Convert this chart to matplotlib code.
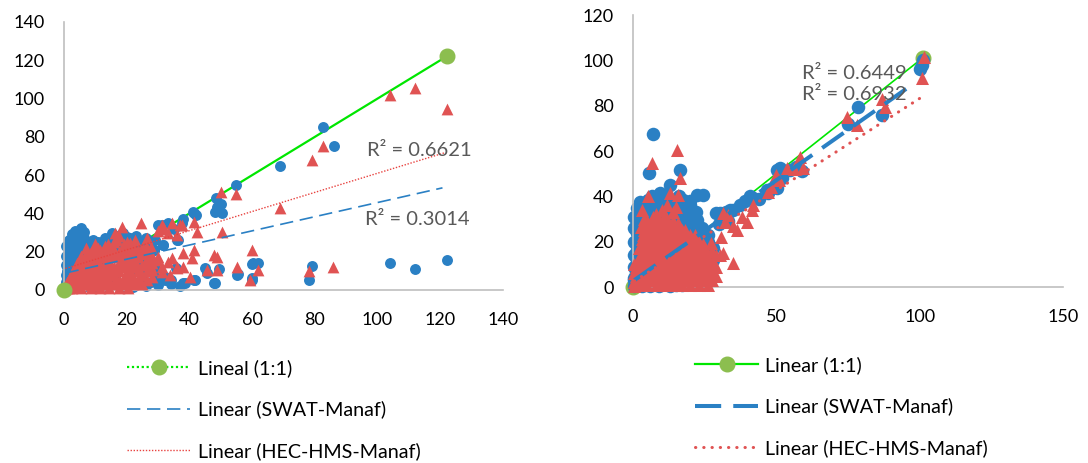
import numpy as np
import matplotlib
matplotlib.use("Agg")
import matplotlib.pyplot as plt
from matplotlib.lines import Line2D

plt.rcParams['font.family'] = ['Lato', 'DejaVu Sans']

# ---------------- data: left panel ----------------
left_swat = [
    (0.3, 1), (0.5, 4), (0.8, 7), (1, 10), (1.4, 13), (1.9, 16.5), (2.4, 20), (2.4, 22.6), (3, 25), (3, 27.9),
    (4, 30), (5.4, 32.2), (6.5, 30.5), (5, 28), (6, 26), (7, 24), (4, 19), (5, 22), (3, 14), (4, 10), (2, 6),
    (3, 3), (5, 7), (6, 12), (7, 17), (8, 21), (9.3, 26.1), (10, 23), (11, 19), (12, 19.2), (13, 24), (14, 22),
    (15.2, 29.6), (16, 25), (17, 21), (18.9, 29.6), (19, 26), (20, 23), (21, 27), (22.6, 26.1), (24, 24),
    (26, 27), (28.6, 21), (30, 34), (31.7, 23.5), (33.2, 34.8), (35, 32), (36, 26), (37.5, 34.8), (8.8, 12.2),
    (10, 8), (12, 13), (14, 10), (16.3, 6.9), (18, 12), (21, 7.8), (23, 14), (24.7, 10.4), (26, 16), (29, 11.3),
    (6.7, 2.1), (9, 4), (11, 2.6), (13, 5), (15.2, 3.5), (17, 2.5), (19.4, 4.3), (21, 3), (23.7, 3.5), (25, 6),
    (27.9, 4.3), (29.1, 7), (32.2, 5.2), (32.3, 7), (33.9, 5.2), (38.1, 3.5), (38.6, 3.5), (41.3, 5.2),
    (45, 11.3), (47.7, 3.5), (82.5, 85), (86, 75), (69, 65), (55, 55), (48.5, 48), (50, 45), (48.8, 43.5),
    (48, 40.6), (50.5, 40), (41, 41), (41.3, 40), (42, 39), (38, 37), (36.5, 26), (122, 15.7), (104, 14),
    (112, 11), (79, 12.5), (78, 5), (60, 13.5), (62, 14), (60.4, 14), (60, 5), (55.4, 8.4), (45.5, 9),
    (49.4, 11), (48, 3.5), (41.7, 5), (34, 5), (31.8, 7), (35.7, 11.5), (31.3, 34), (31.7, 23.5), (28.6, 21),
    (59.9, 6.1), (55.1, 7.8),
]
left_swat_cluster = [
    (0.5, 3), (0.5, 8), (0.5, 13), (0.5, 18), (0.5, 23), (1.5, 2), (1.5, 6), (1.5, 11), (1.5, 16), (1.5, 21),
    (1.5, 26), (2.5, 4), (2.5, 9), (2.5, 14), (2.5, 19), (2.5, 24), (2.5, 29), (3.5, 2), (3.5, 7), (3.5, 12),
    (3.5, 17), (3.5, 22), (3.5, 27), (3.5, 31), (5, 4), (5, 9), (5, 14), (5, 19), (5, 24), (5, 30), (6.5, 6),
    (6.5, 11), (6.5, 16), (6.5, 21), (6.5, 27), (8, 9), (8, 14), (8, 19), (8, 24), (10, 1), (14, 1.5), (18, 1),
    (22, 1.5), (26, 2), (30, 2.5), (34, 3), (37, 2), (11, 25), (13, 27), (17, 28), (20, 27.5), (23, 28),
    (25, 25), (27, 24), (29, 26),
]
left_hec = [
    (0.3, 0.5), (0.8, 2), (1.5, 1), (1.5, 4), (2, 7), (2.5, 3), (3, 10), (3.5, 6), (4, 13), (4.5, 2), (5, 9),
    (5.5, 16), (6, 5), (6.5, 12), (7, 19), (7.5, 8), (8, 15), (8.5, 2.5), (9.1, 21), (9.5, 11), (10, 17),
    (10.5, 5), (11, 22), (11.5, 13), (12, 8), (12.5, 19), (13, 20), (13.5, 3), (14, 24), (14.5, 15), (15, 10),
    (15.5, 21), (16.2, 30), (16.5, 6), (17, 26), (17.5, 17), (18.4, 33), (18.5, 12), (19, 22), (19.5, 4),
    (20, 25), (20.5, 16), (21, 24.4), (21.5, 9), (22, 20), (22.7, 26), (23, 14), (23.6, 4.3), (24.7, 35),
    (24.7, 7.8), (25, 19), (26, 23), (26.5, 13), (27.9, 22.6), (27.9, 12.2), (28, 10.4), (29.6, 15.7),
    (30, 17.4), (30, 31), (31.1, 34), (31.1, 9.6), (31.2, 12.2), (31.7, 33), (32, 32), (33.2, 29.6),
    (33.2, 14.8), (33.9, 7.8), (34.3, 34.8), (34.4, 16.5), (35.9, 28.7), (35.9, 11.3), (36, 12.2), (37, 34),
    (37.6, 34), (38, 19.2), (38.1, 12.2), (40.2, 7), (40.8, 16.5), (41.3, 35.7), (41.3, 20.9), (42.4, 30.5),
    (45.6, 10.4), (47.7, 18.3), (48.8, 17.4), (48.8, 10.4), (50, 51), (50.4, 30.5), (55, 50), (55.1, 12.2),
    (59.4, 5.2), (59.9, 20.9), (62, 10.4), (68.9, 42.7), (78, 10.1), (79, 68), (82.5, 75), (85.9, 12.2),
    (104, 102), (112, 105.5), (122, 94.5),
]
left_hec_cluster = [
    (1, 1), (1, 4), (2.5, 1), (2.5, 5), (2.5, 9), (4, 2), (4, 6), (4, 10), (4, 14), (5.5, 1), (5.5, 5),
    (5.5, 9), (5.5, 13), (5.5, 18), (7, 3), (7, 7), (7, 11), (7, 15), (7, 22), (8.5, 1), (8.5, 5), (8.5, 9),
    (8.5, 13), (8.5, 17), (8.5, 20), (10, 3), (10, 7), (10, 11), (10, 15), (10, 19), (10, 24), (11.5, 1),
    (11.5, 5), (11.5, 9), (11.5, 17), (11.5, 21), (13, 3), (13, 6), (13, 10), (13, 14), (13, 18), (13, 23),
    (14.5, 1), (14.5, 5), (14.5, 9), (14.5, 12), (14.5, 19), (14.5, 22), (16, 3), (16, 8), (16, 12), (16, 17),
    (16, 21), (16, 25), (17.5, 1), (17.5, 5), (17.5, 10), (17.5, 14), (17.5, 20), (17.5, 28), (19, 3), (19, 7),
    (19, 12), (19, 16), (19, 18), (19, 24), (20.5, 1), (20.5, 5), (20.5, 10), (20.5, 14), (20.5, 20),
    (20.5, 22), (22, 3), (22, 7), (22, 12), (22, 16), (22, 18), (22, 23), (23.5, 6), (23.5, 10), (23.5, 17),
    (23.5, 21), (25, 3), (25, 8), (25, 13), (25, 22), (26.5, 5), (26.5, 10), (26.5, 16), (26.5, 20),
    (26.5, 27), (28, 7), (28, 14), (28, 18),
]
left_one_to_one = [(0, 0), (122, 122)]
# trend lines: (intercept, slope, x_start, x_end)
left_trend_swat = (8.7, 0.37, 0.5, 120.7)
left_trend_hec = (11.0, 0.50, 0.5, 121.2)
left_r2 = [("R² = 0.6621", 96.6, 73), ("R² = 0.3014", 96.0, 36.6)]
left_labels = ["Lineal (1:1)", "Linear (SWAT-Manaf)", "Linear (HEC-HMS-Manaf)"]
left_xticks = [0, 20, 40, 60, 80, 100, 120, 140]
left_yticks = [0, 20, 40, 60, 80, 100, 120, 140]

# ---------------- data: right panel ----------------
right_swat = [
    (0.3, 0.5), (0.5, 3), (1, 6), (1, 1), (1.4, 10), (1.3, 16.3), (1.9, 23), (2, 20), (2.5, 24), (2.4, 28),
    (3, 33), (4.2, 34), (2.4, 37.6), (5.3, 38.4), (5.7, 50.1), (7.1, 67.5), (6, 34), (7, 30), (8, 36), (9, 33),
    (9.4, 41.3), (10, 37), (11, 35), (12.9, 45), (13, 38), (14, 33), (15.3, 32), (16.4, 51.6), (16, 36),
    (17, 31), (17.5, 38.4), (18.8, 35), (19, 28), (20, 32), (22.2, 40.6), (24.5, 40.6), (22.3, 29.5),
    (23, 25), (24, 20), (25.7, 19.3), (26.9, 14.9), (26, 18), (28, 12), (29, 32.6), (30.3, 32.5), (32.4, 33),
    (33.8, 34), (33, 29), (35, 34), (37.3, 36), (39, 38), (40.8, 40), (42, 39.1), (44, 39), (46.6, 42.8),
    (47, 41.4), (50.1, 43.5), (50.2, 51.6), (51.3, 52.4), (52, 48), (54.8, 51.6), (57, 53), (59, 51),
    (75, 72), (78.5, 79.5), (86.8, 76), (100, 96), (100.7, 98), (101, 100), (2, 12), (3, 18), (4, 24),
    (6, 2), (8, 3), (10, 1.5), (12, 2), (15, 1), (18, 3), (20, 5), (22, 8), (24, 6), (26, 10), (3, 8),
    (5, 12), (7, 16), (9, 20), (11, 24), (13, 28), (15, 26), (17, 22), (19, 18), (21, 14),
]
right_swat_cluster = [
    (0.5, 4), (0.5, 9), (0.5, 14), (0.5, 20), (0.5, 26), (0.5, 31), (1.5, 2), (1.5, 12), (1.5, 24), (1.5, 30),
    (1.5, 35), (3, 27), (3, 31), (3, 36), (4.5, 30), (4.5, 35), (6.5, 30), (6.5, 36), (6.5, 40), (8, 35),
    (8, 38), (10, 32), (10, 36), (10, 39), (12, 33), (12, 37), (12, 40), (14, 30), (14, 35), (14, 38),
    (16, 31), (16, 34), (16, 40), (18, 28), (18, 32), (18, 36), (20, 26), (20, 30), (20, 36), (20, 38),
    (22, 24), (22, 27), (22, 33), (24, 22), (24, 26), (26, 20), (26, 23), (28, 17), (30, 28), (3, 0.5),
    (6, 0.5), (9, 0.5), (13, 0.5), (17, 1), (21, 1.5), (25, 2),
]
right_hec = [
    (0.3, 0.3), (0.5, 2), (1, 5), (1, 9), (1.5, 1), (2, 3), (2, 13), (2.9, 26.6), (3, 7), (3, 17), (3, 21),
    (3, 34), (4, 2), (4, 11), (4, 25), (4, 30), (5, 5), (5, 15), (5, 19), (5.3, 40), (6, 9), (6, 23), (6, 28),
    (6.6, 54.6), (7, 3), (7, 13), (7, 31), (7.5, 18), (8, 7), (8, 22), (8, 27), (9, 1.5), (9, 11), (9, 16),
    (9, 30), (10, 5), (10, 20), (10, 25), (10, 34), (11, 9), (11, 14), (11, 31.8), (12, 2), (12, 18), (12, 23),
    (12, 36), (12.8, 41.3), (13, 7), (13, 12), (13, 27), (14, 16), (14, 21), (14, 4), (14, 33), (15, 10),
    (15, 25), (15.1, 35.4), (15.3, 60.5), (15.7, 40.6), (15.7, 28.1), (16, 14), (16, 19), (16.4, 48),
    (16, 2.5), (17, 7), (17, 22), (18, 11), (18, 16), (18, 25), (19, 4), (19, 20), (20, 9), (20, 14), (20, 23),
    (21, 18), (21, 6), (22, 12), (22, 16), (23, 3), (23, 9), (23, 20), (24, 13), (24, 6), (25, 10), (25, 17),
    (26, 4), (26, 13), (27, 8), (27.3, 19.3), (28, 6), (28, 11), (29, 14), (30.3, 14), (30.8, 22.2),
    (31.4, 14.9), (31.4, 32.6), (32, 28.8), (33.1, 31.8), (35, 10.5), (35, 27), (36.3, 25), (38, 31),
    (39.7, 28.7), (41.5, 34), (42, 36), (47, 42), (48, 44), (50, 49.4), (51, 47), (53.6, 52.5), (56, 52),
    (58.2, 57.5), (59.4, 52.5), (74.6, 75), (78, 71.5), (86.8, 83), (87.9, 79.5), (100.8, 92), (101.5, 101.5),
]
right_hec_cluster = [
    (0.5, 2), (0.5, 6), (0.5, 10), (2, 1), (2, 5), (2, 9), (2, 13), (2, 17), (3.5, 3), (3.5, 7), (3.5, 11),
    (3.5, 15), (3.5, 19), (3.5, 23), (5, 1), (5, 5), (5, 9), (5, 13), (5, 17), (5, 21), (5, 25), (5, 29),
    (6.5, 3), (6.5, 7), (6.5, 11), (6.5, 15), (6.5, 19), (6.5, 23), (6.5, 27), (8, 1), (8, 5), (8, 9),
    (8, 13), (8, 17), (8, 21), (8, 25), (8, 29), (8, 32), (9.5, 3), (9.5, 7), (9.5, 11), (9.5, 15), (9.5, 19),
    (9.5, 23), (9.5, 27), (11, 1), (11, 5), (11, 9), (11, 13), (11, 17), (11, 21), (11, 25), (11, 29),
    (12.5, 3), (12.5, 7), (12.5, 11), (12.5, 15), (12.5, 19), (12.5, 23), (12.5, 27), (14, 1), (14, 5),
    (14, 9), (14, 13), (14, 17), (14, 21), (14, 25), (14, 29), (15.5, 3), (15.5, 7), (15.5, 11), (15.5, 15),
    (15.5, 19), (15.5, 23), (15.5, 26), (17, 1), (17, 5), (17, 9), (17, 13), (17, 17), (17, 21), (17, 25),
    (18.5, 3), (18.5, 7), (18.5, 11), (18.5, 15), (18.5, 19), (18.5, 23), (20, 1), (20, 5), (20, 9),
    (20, 13), (20, 17), (20, 21), (21.5, 3), (21.5, 7), (21.5, 11), (21.5, 15), (21.5, 19), (21.5, 23),
    (23, 1), (23, 5), (23, 9), (23, 13), (23, 17), (24.5, 3), (24.5, 7), (24.5, 11), (24.5, 15), (24.5, 19),
    (26, 1), (26, 5), (26, 9), (26, 13), (27.5, 3), (27.5, 7), (27.5, 11), (27.5, 16), (29, 5), (29, 9),
]
right_one_to_one = [(0, 0), (101, 101)]
right_trend_swat = (2.6, 0.89, 0.5, 97.0)
right_trend_hec = (2.2, 0.81, 0.5, 101.5)
right_r2 = [("R² = 0.6449", 59.0, 94), ("R² = 0.6932", 59.0, 85)]
right_labels = ["Linear (1:1)", "Linear (SWAT-Manaf)", "Linear (HEC-HMS-Manaf)"]
right_xticks = [0, 50, 100, 150]
right_yticks = [0, 20, 40, 60, 80, 100, 120]

# ---------------- styles ----------------
BLUE = "#2A80C4"
RED = "#E05353"
GREEN = "#00E600"
GMARK = "#8CBE4F"
SPINE = "#BFBFBF"
R2COL = "#595959"
LEG_FS = 14.2

fig = plt.figure(figsize=(10.88, 4.63), dpi=100)
axL = fig.add_axes([64 / 1088, 1 - 290 / 463, (503 - 64) / 1088, (290 - 22) / 463])
axR = fig.add_axes([633 / 1088, 1 - 287 / 463, (1063 - 633) / 1088, (287 - 15) / 463])


def style_axes(ax, xt, yt):
    ax.set_xlim(xt[0], xt[-1])
    ax.set_ylim(yt[0], yt[-1])
    ax.set_xticks(xt)
    ax.set_yticks(yt)
    for s in ("top", "right"):
        ax.spines[s].set_visible(False)
    for s in ("left", "bottom"):
        ax.spines[s].set_color(SPINE)
        ax.spines[s].set_linewidth(1.2)
    ax.tick_params(axis="both", length=0, labelsize=13)
    ax.tick_params(axis="x", pad=16)
    ax.tick_params(axis="y", pad=14)


def trend(ax, params, **kw):
    b, m, x0, x1 = params
    xs = np.array([x0, x1])
    ax.plot(xs, b + m * xs, **kw)


# left panel
style_axes(axL, left_xticks, left_yticks)
ls = np.array(left_swat + left_swat_cluster)
lh = np.array(left_hec + left_hec_cluster)
l11 = np.array(left_one_to_one)
axL.plot(l11[:, 0], l11[:, 1], color=GREEN, lw=1.6, zorder=1, clip_on=False)
axL.scatter(ls[:, 0], ls[:, 1], s=62, color=BLUE, linewidths=0, zorder=2, clip_on=False)
axL.scatter(lh[:, 0], lh[:, 1], marker="^", s=72, color=RED, linewidths=0, zorder=3, clip_on=False)
axL.plot(l11[:, 0], l11[:, 1], ls="none", marker="o", ms=10.5, mfc=GMARK, mec=GMARK,
         zorder=5, clip_on=False)
trend(axL, left_trend_swat, color=BLUE, lw=1.2, dashes=(8, 4), zorder=4)
trend(axL, left_trend_hec, color="#E8423F", lw=1.0, dashes=(1, 1.2), zorder=4)
for t, x, y in left_r2:
    axL.text(x, y, t, fontsize=14.5, color=R2COL, ha="left", va="center", zorder=6)

hL = [
    Line2D([], [], color=GREEN, lw=1.6, dashes=(1, 1.2), marker="o", ms=10.5, mfc=GMARK, mec=GMARK),
    Line2D([], [], color=BLUE, lw=1.2, dashes=(8, 4)),
    Line2D([], [], color="#E8423F", lw=1.0, dashes=(1, 1.2)),
]
fig.legend(hL, left_labels, loc="upper left", bbox_to_anchor=(127 / 1088, 1 - 359 / 463),
           frameon=False, fontsize=LEG_FS, handlelength=3.2, handletextpad=0.38, labelspacing=1.2,
           borderpad=0, borderaxespad=0, numpoints=1)

# right panel
style_axes(axR, right_xticks, right_yticks)
r11 = np.array(right_one_to_one)
axR.plot(r11[:, 0], r11[:, 1], color=GREEN, lw=1.2, marker="o", ms=10.5, mfc=GMARK, mec=GMARK,
         zorder=1, clip_on=False)
rs = np.array(right_swat + right_swat_cluster)
rh = np.array(right_hec + right_hec_cluster)
axR.scatter(rs[:, 0], rs[:, 1], s=95, color=BLUE, linewidths=0, zorder=2, clip_on=False)
axR.scatter(rh[:, 0], rh[:, 1], marker="^", s=88, color=RED, linewidths=0, zorder=3, clip_on=False)
trend(axR, right_trend_swat, color=BLUE, lw=2.9, dashes=(6.5, 3), zorder=4)
trend(axR, right_trend_hec, color=RED, lw=2.2, dashes=(0.1, 2.6), dash_capstyle="round", zorder=4)
for t, x, y in right_r2:
    axR.text(x, y, t, fontsize=14.5, color=R2COL, ha="left", va="center", zorder=6)

hR = [
    Line2D([], [], color=GREEN, lw=1.6, marker="o", ms=10.5, mfc=GMARK, mec=GMARK),
    Line2D([], [], color=BLUE, lw=2.9, dashes=(6.5, 3)),
    Line2D([], [], color=RED, lw=2.2, dashes=(0.1, 2.6), dash_capstyle="round"),
]
fig.legend(hR, right_labels, loc="upper left", bbox_to_anchor=(695 / 1088, 1 - 356 / 463),
           frameon=False, fontsize=LEG_FS, handlelength=3.2, handletextpad=0.36, labelspacing=1.2,
           borderpad=0, borderaxespad=0, numpoints=1)

fig.savefig("out.png", dpi=100)
